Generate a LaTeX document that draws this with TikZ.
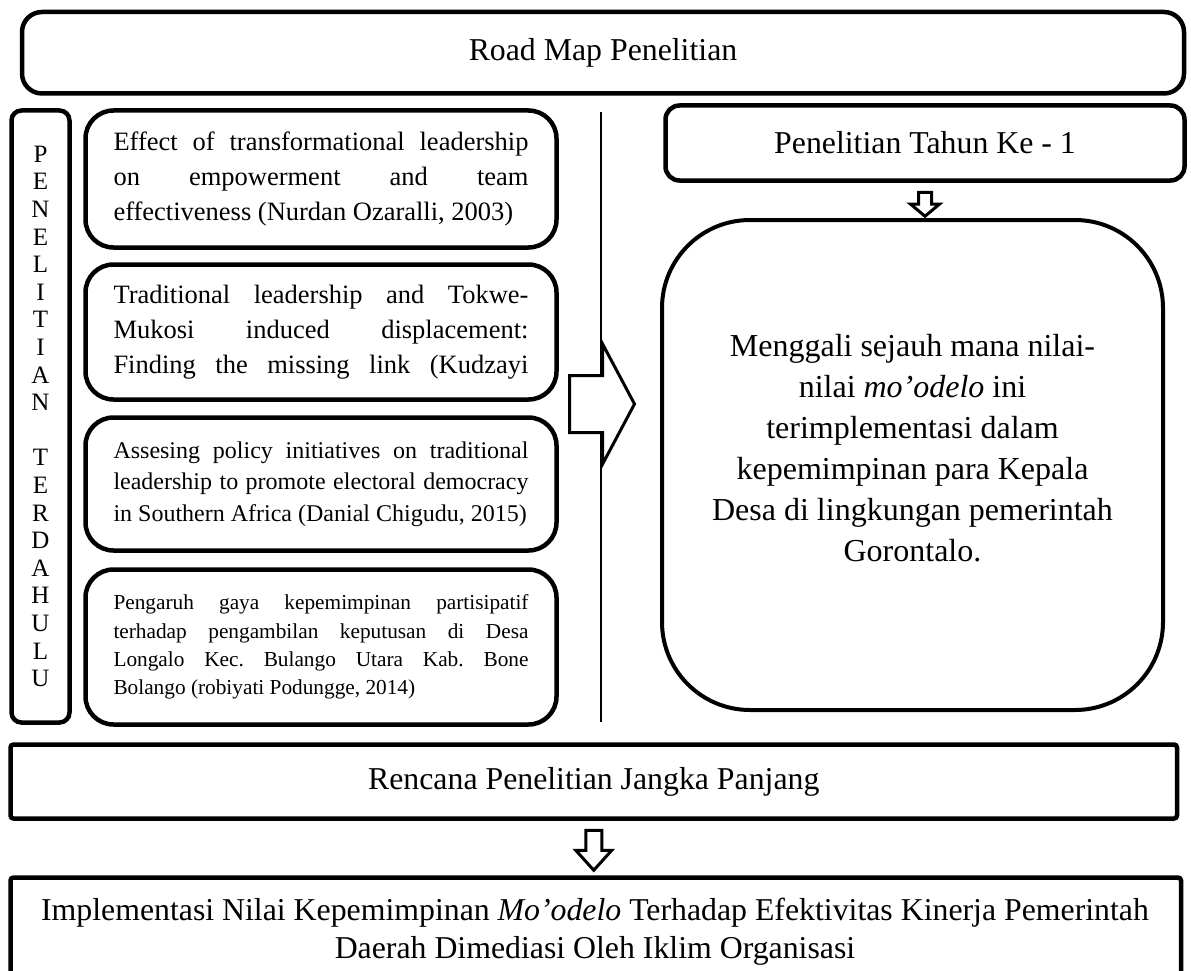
\documentclass[tikz,border=0pt]{standalone}
\usepackage{fontspec}
\setmainfont{Liberation Serif}
\usetikzlibrary{shapes.arrows}

\newlength{\studyw}
\setlength{\studyw}{415pt}
\newcommand{\jline}[1]{\makebox[\studyw][s]{#1}}
\newcommand{\headfont}{\fontsize{31.8}{38}\selectfont}
\newcommand{\bodyfont}{\fontsize{26.5}{34.8}\selectfont}
\newcommand{\midfont}{\fontsize{24}{31.7}\selectfont}
\newcommand{\smallfont}{\fontsize{21.3}{28.3}\selectfont}
\newcommand{\bigfont}{\fontsize{32}{41}\selectfont}
\newcommand{\letterfont}{\fontsize{25}{27.6}\selectfont}
\frenchspacing

\begin{document}
\begin{tikzpicture}[x=1pt, y=-1pt,
            box/.style={draw, line width=4.5pt, inner sep=0pt, align=center},
            study/.style={box, rounded corners=28pt, minimum width=471pt,
                          text width=415pt, align=justify},
            blockarrow/.style={single arrow, draw, fill=white, line width=3pt,
                               inner xsep=0pt, minimum width=0pt, anchor=tail},
            downarrow/.style={single arrow, draw, fill=white, line width=3pt,
                              inner ysep=0pt, minimum width=0pt, anchor=tail,
                              shape border rotate=270}
        ]

        \useasboundingbox (0,0) rectangle (1191,971);
        \clip (0,0) rectangle (1191,971);

        % Header
        \node[box, rounded corners=20pt, minimum width=1162pt, minimum height=81.5pt,
              font=\headfont] (roadmap) at (603,52.75) {Road Map Penelitian};

        % Previous studies
        \node[box, rounded corners=10pt, minimum width=58pt, minimum height=612pt,
              font=\letterfont] (terdahulu) at (40.5,416.5)
            {P\\E\\N\\E\\L\\I\\T\\I\\A\\N\\[27.6pt]T\\E\\R\\D\\A\\H\\U\\L\\U};

        \node[study, minimum height=137pt, font=\bodyfont] (study1) at (321,179)
            {\jline{Effect of transformational leadership}\\
             \jline{on empowerment and team}\\
             effectiveness (Nurdan Ozaralli, 2003)};

        \node[study, minimum height=135pt, font=\bodyfont] (study2) at (321,332)
            {\jline{Traditional leadership and Tokwe-}\\
             \jline{Mukosi induced displacement:}\\
             \jline{Finding the missing link (Kudzayi}};

        \node[study, minimum height=133pt, font=\midfont] (study3) at (321,484)
            {\jline{Assesing policy initiatives on traditional}\\
             \jline{leadership to promote electoral democracy}\\
             in Southern Africa (Danial Chigudu, 2015)};

        \node[study, minimum height=155pt, font=\smallfont] (study4) at (321,647)
            {\jline{Pengaruh gaya kepemimpinan partisipatif}\\
             \jline{terhadap pengambilan keputusan di Desa}\\
             \jline{Longalo Kec. Bulango Utara Kab. Bone}\\
             Bolango (robiyati Podungge, 2014)};

        % Divider
        \coordinate (divtop) at (601,112);
        \coordinate (divbot) at (601,722);
        \draw[line width=1.5pt] (divtop) -- (divbot);

        % First year
        \node[box, rounded corners=14pt, minimum width=519pt, minimum height=75pt,
              font=\headfont] (tahun) at (925,143) {Penelitian Tahun Ke - 1};

        \node[box, line width=4pt, rounded corners=88pt, minimum width=501pt,
              minimum height=490pt] (temuan) at (912.5,465) {};
        \node[font=\bigfont, align=center] (temuantext) at (912.5,448)
            {Menggali sejauh mana nilai-\\
             nilai \emph{mo’odelo} ini\\
             terimplementasi dalam\\
             kepemimpinan para Kepala\\
             Desa di lingkungan pemerintah\\
             Gorontalo.};

        % Block arrows
        \node[blockarrow, inner ysep=27pt, single arrow head extend=31.5pt,
              single arrow tip angle=124, minimum height=65pt] (toright) at (568,404) {};
        \node[downarrow, inner xsep=5pt, single arrow head extend=8pt,
              single arrow tip angle=100, minimum height=24pt] (down1)
            at ([yshift=-8pt]tahun.south) {};

        % Long term
        \node[box, rounded corners=3pt, minimum width=1166.5pt, minimum height=74pt,
              font=\headfont] (jangka) at (593.75,781.5) {Rencana Penelitian Jangka Panjang};
        \node[downarrow, inner xsep=6.5pt, single arrow head extend=10pt,
              single arrow tip angle=84, minimum height=40pt] (down2)
            at ([yshift=-8pt]jangka.south) {};

        \node[box, rounded corners=3pt, minimum width=1170.5pt, minimum height=132.5pt]
            (implementasi) at (595.75,943.75) {};
        \node[font=\headfont, align=center] (implementasitext) at (595,932)
            {Implementasi Nilai Kepemimpinan \emph{Mo’odelo} Terhadap Efektivitas Kinerja Pemerintah\\
             Daerah Dimediasi Oleh Iklim Organisasi};

\end{tikzpicture}
\end{document}
